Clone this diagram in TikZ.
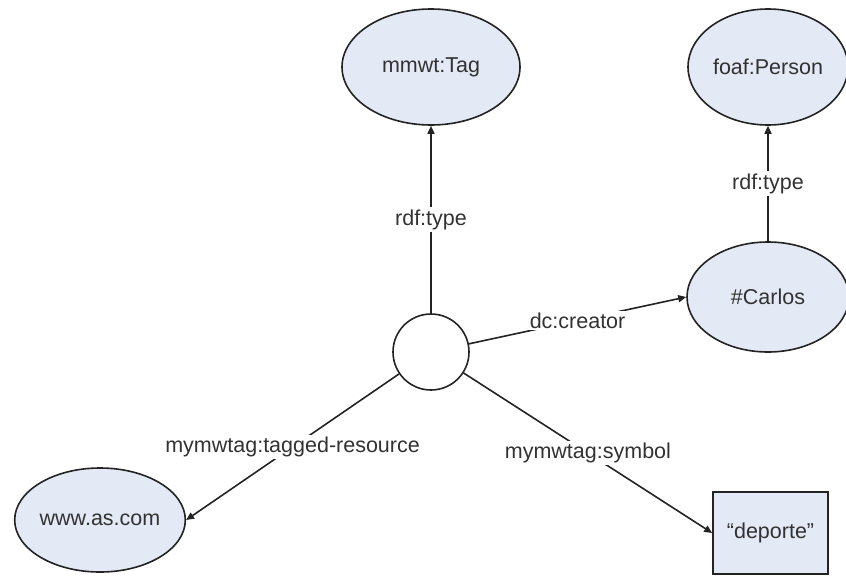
\documentclass[tikz,border=0pt]{standalone}
\usepackage{fontspec}
\setmainfont{Liberation Sans}
\usetikzlibrary{shapes.geometric,arrows.meta}
\definecolor{nodefill}{RGB}{227,233,245}
\definecolor{ink}{RGB}{35,35,35}
\definecolor{txt}{RGB}{50,50,50}
\begin{document}
\begin{tikzpicture}[x=1pt,y=-1pt,
  font=\fontsize{21.5}{25}\selectfont,
  res/.style={ellipse,draw=ink,fill=nodefill,line width=1.6pt,inner sep=0pt,text=txt},
  lit/.style={rectangle,draw=ink,fill=nodefill,line width=1.6pt,inner sep=0pt,text=txt},
  blank/.style={circle,draw=ink,fill=white,line width=1.6pt,inner sep=0pt,minimum size=76pt},
  link/.style={draw=ink,line width=1.6pt,-{Triangle[length=8pt,width=7pt]}},
  lbl/.style={fill=white,text=txt,inner sep=2pt,midway}]
  \useasboundingbox (0,0) rectangle (846,576);
  % resources
  \node[res,minimum width=178pt,minimum height=116pt] (tag) at (431,67) {mmwt:Tag};
  \node[res,minimum width=160pt,minimum height=116pt] (person) at (768,67) {foaf:Person};
  \node[res,minimum width=162pt,minimum height=110pt] (carlos) at (768,297) {\#Carlos};
  \node[res,minimum width=166pt,minimum height=104pt] (www) at (100,520) {www.as.com};
  % literal
  \node[lit,minimum width=115pt,minimum height=82pt] (dep) at (770.5,533) {“deporte”};
  % blank node
  \node[blank] (b) at (431,352) {};
  % properties
  \draw[link] (b) -- (tag.south) node[lbl] {rdf:type};
  \draw[link] (carlos.north) -- (person.south) node[lbl] {rdf:type};
  \draw[link] (b) -- (carlos.west) node[lbl] {dc:creator};
  \draw[link] (b) -- (www.east) node[lbl] {mymwtag:tagged-resource};
  \draw[link] (b) -- (dep.west) node[lbl] {mymwtag:symbol};
\end{tikzpicture}
\end{document}
